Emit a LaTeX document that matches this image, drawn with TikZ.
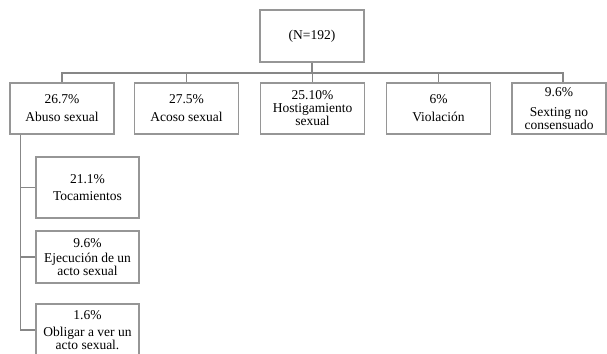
\documentclass[tikz,border=0pt]{standalone}
\usepackage{fontspec}
\setmainfont{Liberation Serif}
\begin{document}
\begin{tikzpicture}[x=1pt,y=-1pt,
  box/.style={draw=boxgray,line width=1.3pt,fill=white,inner sep=0pt,align=center,
    font=\fontsize{13.5}{13}\selectfont},
  conn/.style={draw=linegray,line width=1.5pt}]
\definecolor{boxgray}{RGB}{150,150,150}
\definecolor{linegray}{RGB}{135,135,135}
\clip (0,0) rectangle (607,353);
\fill[white] (0,0) rectangle (607,353);
% top
\node[box,minimum width=104,minimum height=52] (top) at (312,36) {(N=192)};
% level 1
\node[box,minimum width=104,minimum height=51] (abuso) at (62,108.5) {26.7\%\\[5pt]Abuso sexual};
\node[box,minimum width=104,minimum height=51] (acoso) at (186.5,108.5) {27.5\%\\[5pt]Acoso sexual};
\node[box,minimum width=104,minimum height=51] (host) at (312.5,108.5) {25.10\%\\[0pt]Hostigamiento\\sexual};
\node[box,minimum width=104,minimum height=51] (viol) at (438.5,108.5) {6\%\\[5pt]Violación};
\node[box,minimum width=94,minimum height=51] (sext) at (559,108.5) {9.6\%\\[7pt]Sexting no\\consensuado};
% level 2
\node[box,minimum width=103,minimum height=61] (toc) at (87.5,187.5) {21.1\%\\[4pt]Tocamientos};
\node[box,minimum width=103,minimum height=52] (eje) at (87.5,257) {9.6\%\\[2pt]Ejecución de un\\acto sexual};
\node[box,minimum width=103,minimum height=52] (obl) at (87.5,330) {1.6\%\\[4pt]Obligar a ver un\\acto sexual.};
% connectors
\coordinate (bar) at (312,73);
\coordinate (spine) at ([xshift=11pt]abuso.south west);
\draw[conn] (top.south) -- (top.south |- bar);
\draw[conn] (abuso.north) |- ([xshift=4pt]sext.north |- bar) -- ([xshift=4pt]sext.north);
\draw[conn] (acoso.north) -- (acoso.north |- bar);
\draw[conn] (host.north) -- (host.north |- bar);
\draw[conn] (viol.north) -- (viol.north |- bar);
\draw[conn] (spine) |- (obl.west);
\draw[conn] (spine |- toc.west) -- (toc.west);
\draw[conn] (spine |- eje.west) -- (eje.west);
\end{tikzpicture}
\end{document}
